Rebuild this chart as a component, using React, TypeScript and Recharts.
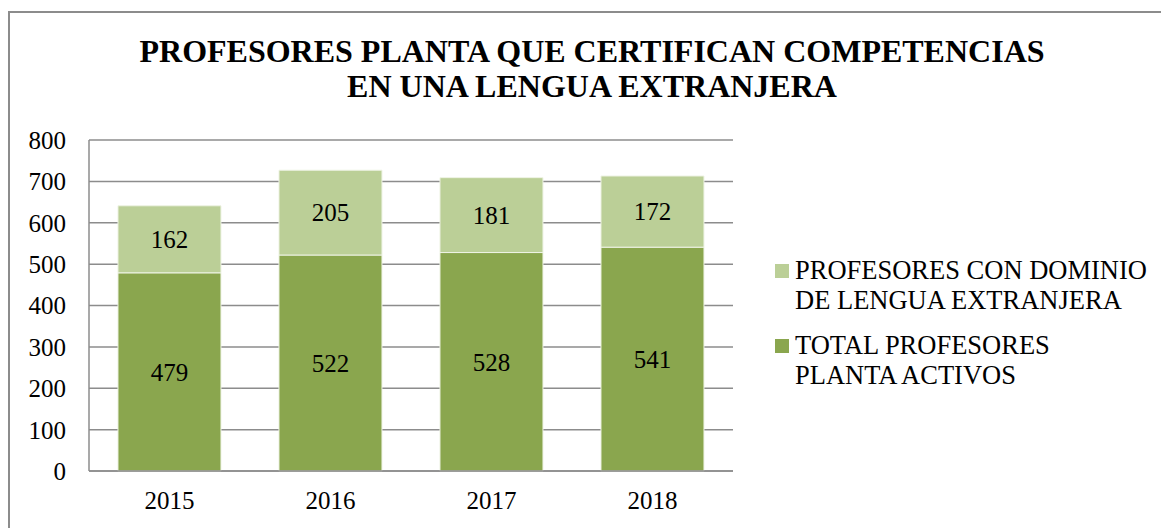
import { Bar, BarChart, CartesianGrid, LabelList, XAxis, YAxis } from "recharts"

const years = ["2015", "2016", "2017", "2018"]
const totalActivos = [479, 522, 528, 541]
const conDominio = [162, 205, 181, 172]
const yTicks = [0, 100, 200, 300, 400, 500, 600, 700, 800]

const seriesTotal = "TOTAL PROFESORES PLANTA ACTIVOS"
const seriesDominio = "PROFESORES CON DOMINIO DE LENGUA EXTRANJERA"

const darkGreen = "#8aa64e"
const lightGreen = "#bbcf97"
const gray = "#8c8c8c"
const font = "'Liberation Serif', 'Times New Roman', serif"

const data = years.map((year, i) => ({
  year,
  total: totalActivos[i],
  dominio: conDominio[i],
}))

const legendItems = [
  { name: seriesDominio, color: lightGreen },
  { name: seriesTotal, color: darkGreen },
]

export default function App() {
  return (
    <div
      style={{
        position: "absolute",
        left: 0,
        top: 0,
        width: 1161,
        height: 528,
        overflow: "hidden",
        background: "#fff",
        fontFamily: font,
      }}
    >
      <div
        style={{
          position: "absolute",
          left: 8,
          top: 11,
          width: 1200,
          height: 600,
          borderLeft: `2px solid ${gray}`,
          borderTop: `2px solid ${gray}`,
        }}
      />
      <div
        style={{
          position: "absolute",
          left: 0,
          top: 34,
          width: 1184,
          textAlign: "center",
          fontWeight: "bold",
          fontSize: 32,
          lineHeight: "35px",
          color: "#000",
        }}
      >
        PROFESORES PLANTA QUE CERTIFICAN COMPETENCIAS
        <br />
        EN UNA LENGUA EXTRANJERA
      </div>

      <div style={{ position: "absolute", left: 0, top: 0 }}>
        <BarChart
          width={1161}
          height={528}
          data={data}
          margin={{ top: 140, right: 428, bottom: 0, left: 29 }}
          barCategoryGap="18%"
        >
          <CartesianGrid vertical={false} stroke={gray} strokeWidth={1.5} />
          <XAxis
            dataKey="year"
            height={57}
            tickLine={false}
            tickMargin={14}
            axisLine={{ stroke: gray, strokeWidth: 1.5 }}
            tick={{ fill: "#000", fontSize: 25, fontFamily: font }}
          />
          <YAxis
            width={60}
            domain={[0, 800]}
            ticks={yTicks}
            interval={0}
            tickLine={false}
            tickMargin={17}
            axisLine={{ stroke: gray, strokeWidth: 1.5 }}
            tick={{ fill: "#000", fontSize: 25, fontFamily: font }}
          />
          <Bar
            dataKey="total"
            name={seriesTotal}
            stackId="a"
            fill={darkGreen}
            stroke="#eef3e4"
            strokeWidth={1}
            isAnimationActive={false}
          >
            <LabelList dataKey="total" position="center" fill="#000" fontSize={25} fontFamily={font} />
          </Bar>
          <Bar
            dataKey="dominio"
            name={seriesDominio}
            stackId="a"
            fill={lightGreen}
            stroke="#eef3e4"
            strokeWidth={1}
            isAnimationActive={false}
          >
            <LabelList dataKey="dominio" position="center" fill="#000" fontSize={25} fontFamily={font} />
          </Bar>
        </BarChart>
      </div>

      <div style={{ position: "absolute", left: 775, top: 255 }}>
        {legendItems.map((item) => (
          <div key={item.name} style={{ display: "flex", alignItems: "flex-start", marginBottom: 15 }}>
            <div
              style={{
                width: 14,
                height: 14,
                background: item.color,
                marginTop: 9,
                marginRight: 6,
                flexShrink: 0,
              }}
            />
            <div style={{ width: 358, fontSize: 26.5, lineHeight: "30px", color: "#000" }}>{item.name}</div>
          </div>
        ))}
      </div>
    </div>
  )
}
